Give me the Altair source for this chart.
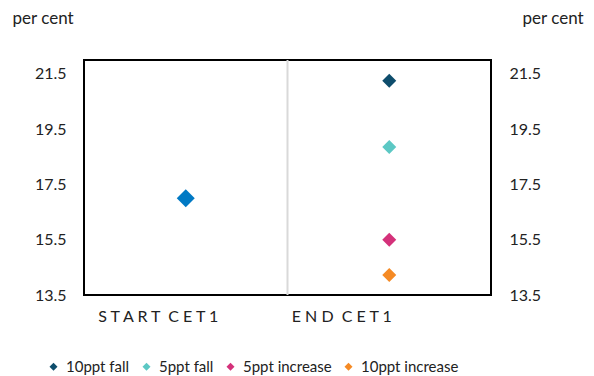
import altair as alt
import pandas as pd

categories = ["START CET1", "END CET1"]
cat_labels = ["S T A R T \u00a0C E T 1", "E N D \u00a0C E T 1"]
start_value = [17.0]
series = ["10ppt fall", "5ppt fall", "5ppt increase", "10ppt increase"]
end_values = [21.25, 18.85, 15.5, 14.22]
series_colors = ["#0E4D6C", "#5CC8C4", "#D4317A", "#F58A24"]
start_color = "#0079C4"
y_ticks = [13.5, 15.5, 17.5, 19.5, 21.5]

FONT = "Lato"

start_df = pd.DataFrame({"pos": [0], "value": start_value, "cat": [categories[0]]})
end_df = pd.DataFrame({"pos": [1] * len(series), "value": end_values, "series": series})

x_axis = alt.Axis(
    values=[0, 1],
    labelExpr=f"datum.value == 0 ? '{cat_labels[0]}' : '{cat_labels[1]}'",
    ticks=False, domain=False, grid=False, title=None,
    labelFont=FONT, labelFontSize=16, labelColor="#222222",
    labelPadding=13,
    labelOffset=alt.condition("datum.value == 0", alt.value(-28), alt.value(-48)),
)
x_scale = alt.Scale(domain=[-0.5, 1.5])
y_scale = alt.Scale(domain=[13.5, 22], nice=False, zero=False)

def y_axis(orient, title_x):
    return alt.Axis(
        orient=orient, values=y_ticks, format=".1f", ticks=False, domain=False, grid=False,
        labelFont=FONT, labelFontSize=16, labelColor="#222222", labelPadding=18,
        title="per cent", titleAngle=0, titleFont=FONT, titleFontSize=17,
        titleFontWeight="normal", titleColor="#222222",
        titleX=title_x, titleY=-42, titleAlign="left", titleBaseline="middle",
    )

divider = alt.Chart(pd.DataFrame({"d": [0.5]})).mark_rule(color="#D9D9D9", strokeWidth=2).encode(
    x=alt.X("d:Q", scale=x_scale, axis=x_axis)
)

start = alt.Chart(start_df).mark_point(shape="diamond", filled=True, opacity=1, size=324, color=start_color).encode(
    x=alt.X("pos:Q", scale=x_scale, axis=x_axis),
    y=alt.Y("value:Q", scale=y_scale, axis=y_axis("left", -72)),
)

end = alt.Chart(end_df).mark_point(shape="diamond", filled=True, opacity=1, size=196).encode(
    x=alt.X("pos:Q", scale=x_scale, axis=x_axis),
    y=alt.Y("value:Q", scale=y_scale, axis=y_axis("right", 31)),
    color=alt.Color(
        "series:N",
        scale=alt.Scale(domain=series, range=series_colors),
        legend=alt.Legend(
            title=None, orient="none", direction="horizontal", legendX=-38, legendY=299,
            symbolType="diamond", symbolSize=64, labelFont=FONT, labelFontSize=15,
            labelColor="#222222", columnPadding=9, labelOffset=5, padding=0,
            symbolStrokeWidth=0,
        ),
    ),
)

chart = (
    alt.layer(divider, start, end)
    .resolve_scale(y="shared")
    .resolve_axis(y="independent")
    .properties(
        width=407, height=235,
        autosize=alt.AutoSizeParams(type="none"),
        padding={"left": 76, "top": 52, "right": 95, "bottom": 85},
        background="white",
    )
    .configure_view(stroke="black", strokeWidth=2)
)

chart.save("out.html", embed_options={"renderer": "svg", "actions": False})
